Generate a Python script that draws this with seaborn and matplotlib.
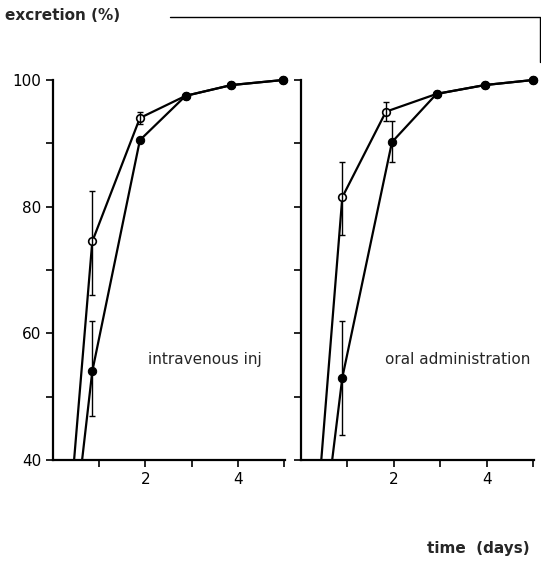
import matplotlib
matplotlib.use("Agg")
import matplotlib.pyplot as plt
import seaborn as sns
import pandas as pd
import numpy as np

sns.set_style("ticks")
plt.rcParams['font.family'] = ['DejaVu Sans']

# intravenous injection panel
iv_open_t = [0.0, 0.85, 1.88, 2.87, 3.86, 4.98]
iv_open_y = [0.0, 74.5, 94.0, 97.5, 99.2, 100.0]
iv_filled_t = [0.0, 0.85, 1.88, 2.87, 3.86, 4.98]
iv_filled_y = [0.0, 54.0, 90.5, 97.5, 99.2, 100.0]
iv_open_err = [82.5, 66.0]     # upper, lower end of bar at first point
iv_filled_err = [62.0, 47.0]
iv_open2_err = [95.0, 93.0]

# oral administration panel
or_open_t = [0.0, 0.89, 1.83, 2.92, 3.96, 5.0]
or_open_y = [0.0, 81.5, 95.0, 97.8, 99.2, 100.0]
or_filled_t = [0.0, 0.89, 1.96, 2.92, 3.96, 5.0]
or_filled_y = [0.0, 53.0, 90.2, 97.8, 99.2, 100.0]
or_open_err = [87.0, 75.5]
or_filled_err = [62.0, 44.0]
or_open2_err = [96.5, 93.5]
or_filled2_err = [93.5, 87.0]

panel_labels = ["intravenous inj", "oral administration"]
x_ticks = [1, 2, 3, 4, 5]
x_ticklabels = ["", "2", "", "4", ""]
y_ticks = [40, 50, 60, 70, 80, 90, 100]
y_ticklabels = ["40", "", "60", "", "80", "", "100"]

fig = plt.figure(figsize=(5.41, 5.62), dpi=100)
axL = fig.add_axes([53/541, 1-460/562, (285-53)/541, (460-80)/562])
axR = fig.add_axes([301/541, 1-460/562, (534-301)/541, (460-80)/562])

panels = [
    (axL, iv_open_t, iv_open_y, iv_filled_t, iv_filled_y,
     [(iv_open_t[1], iv_open_err), (iv_filled_t[1], iv_filled_err),
      (iv_open_t[2], iv_open2_err)]),
    (axR, or_open_t, or_open_y, or_filled_t, or_filled_y,
     [(or_open_t[1], or_open_err), (or_filled_t[1], or_filled_err),
      (or_open_t[2], or_open2_err), (or_filled_t[2], or_filled2_err)]),
]

for i, (ax, ot, oy, ft, fy, errs) in enumerate(panels):
    sns.lineplot(x=ot, y=oy, ax=ax, color="black", lw=1.6, marker="o",
                 markersize=5.5, markerfacecolor="white", markeredgecolor="black",
                 markeredgewidth=1.2, sort=False, estimator=None)
    sns.lineplot(x=ft, y=fy, ax=ax, color="black", lw=1.6, marker="o",
                 markersize=6, markerfacecolor="black", markeredgecolor="black",
                 sort=False, estimator=None)
    for t, (hi, lo) in errs:
        ax.errorbar([t], [(hi + lo) / 2], yerr=[[(hi - lo) / 2], [(hi - lo) / 2]],
                    fmt="none", ecolor="black", elinewidth=1.0, capsize=2.5)
    ax.set_xlim(0, 5.02)
    ax.set_ylim(40, 100)
    ax.set_xticks(x_ticks)
    ax.set_xticklabels(x_ticklabels, fontsize=11)
    ax.set_yticks(y_ticks)
    if i == 0:
        ax.set_yticklabels(y_ticklabels, fontsize=11)
    else:
        ax.set_yticklabels([])
    ax.tick_params(axis="both", direction="out", length=5, width=1.2, colors="black")
    for s in ["top", "right"]:
        ax.spines[s].set_visible(False)
    for s in ["left", "bottom"]:
        ax.spines[s].set_linewidth(1.6)
        ax.spines[s].set_color("black")
    ax.set_xlabel("")
    ax.set_ylabel("")
    ax.text(0.41 if i == 0 else 0.36, 0.265, panel_labels[i], transform=ax.transAxes,
            fontsize=11, ha="left", va="center")

# clip at the bottom (lines start below 40) but let top markers show fully
for ax in (axL, axR):
    for ln in ax.lines:
        ln.set_clip_on(True)
        ln.set_clip_box(matplotlib.transforms.TransformedBbox(
            matplotlib.transforms.Bbox([[0, 0], [1.05, 1.05]]), ax.transAxes))

fig.text(5/541, 1-16/562, "excretion (%)", fontsize=11, fontweight="bold",
         ha="left", va="center")
fig.text(530/541, 1-548/562, "time  (days)", fontsize=11, fontweight="bold",
         ha="right", va="center")
# frame line at top right of the scan
fig.add_artist(matplotlib.lines.Line2D([170/541, 540/541, 540/541],
                                       [1-17/562, 1-17/562, 1-62/562],
                                       color="black", lw=1.0))

fig.savefig("out.png", dpi=100)
